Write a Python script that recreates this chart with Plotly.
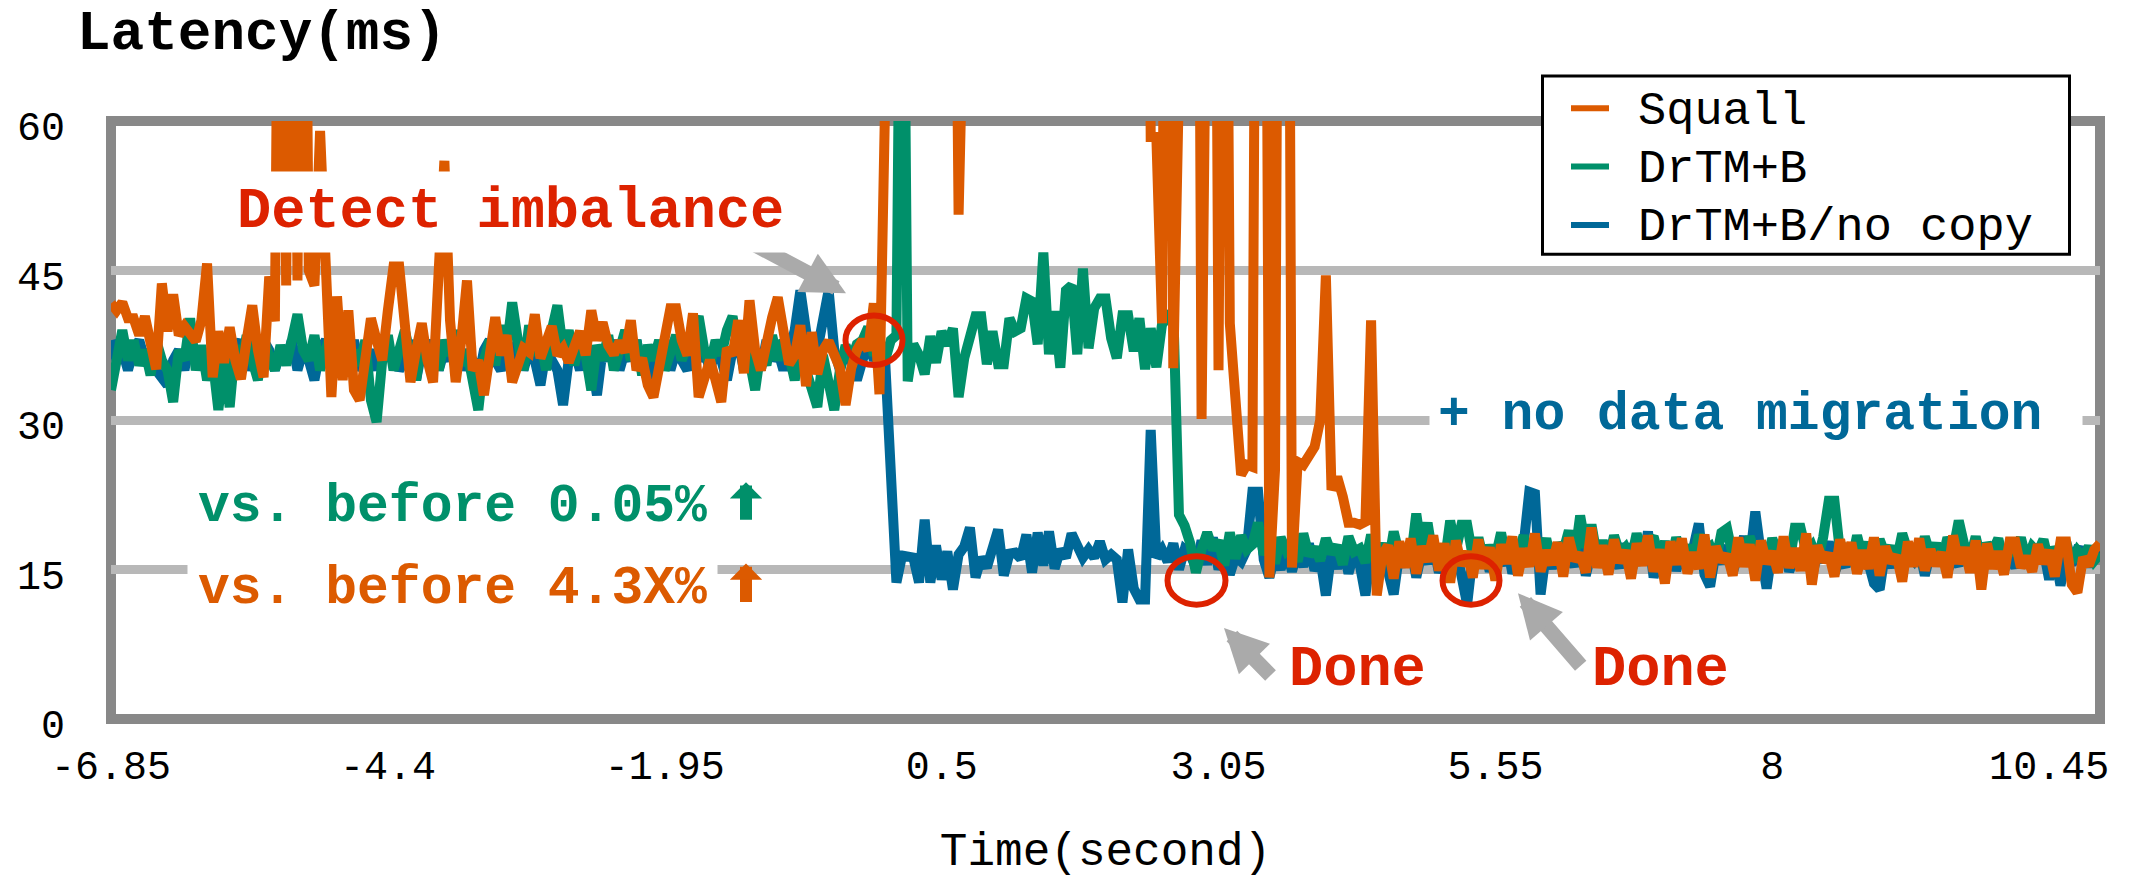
import plotly.graph_objects as go

# ---------------- data ----------------
time_labels = ['-6.85', '-4.4', '-1.95', '0.5', '3.05', '5.55', '8', '10.45']
y_ticks = [0, 15, 30, 45, 60]

squall = [
    41.7, 41, 41.8, 40.2, 40.2, 38.5, 40.4, 37.8, 35.1, 43.7,
    38.9, 42.6, 38.5, 39.4, 38.5, 37.9, 40, 45.7, 34.3, 38.9,
    35.75, 39.3, 36, 34.1, 38, 41.5, 37, 34.3, 44.4, 39.9,
    110, 43.5, 110, 44, 110, 45, 43.5, 59, 44, 32.3,
    42.4, 34, 41, 33, 32, 36.4, 40.2, 38, 36, 41,
    45.4, 45.4, 40.5, 33.8, 37, 39.7, 36, 33.8, 45, 56,
    40, 33.8, 38, 44, 35, 36, 32.5, 37, 40.3, 36.5,
    38.5, 33.8, 35.5, 37.2, 36.8, 40.6, 36.2, 38, 39.4, 36.5,
    37.2, 35.8, 37.5, 38.9, 36.5, 41, 38, 39.8, 37.5, 36.6,
    37.9, 36.8, 40, 35, 36.2, 33.5, 32.3, 35.5, 37.5, 41.2,
    41.2, 38, 36.5, 40.7, 32.3, 34.5, 36, 34, 31.8, 37.2,
    36.5, 40, 34.7, 42, 37, 35, 38, 40.3, 42.3, 38,
    35.6, 36.5, 39.5, 33.4, 38.8, 34.6, 37, 37.9, 36.2, 35.2,
    31.5, 35.2, 37, 38, 37, 41.7, 32.6, 130, 140, 125,
    150, 135, 145, 120, 140, 130, 150, 125, 140, 110,
    50.6, 115, 140, 130, 150, 125, 145, 135, 120, 150,
    130, 140, 125, 145, 130, 150, 120, 140, 135, 150,
    125, 140, 130, 145, 120, 150, 135, 140, 125, 145,
    130, 150, 125, 140, 58.4, 58.4, 39.7, 130, 35.2, 140,
    130, 150, 150, 30.1, 130, 140, 35, 125, 39.7, 31,
    24.5, 25.5, 25.3, 135, 140, 14.2, 25, 140, 150, 15.2,
    25.8, 25.5, 26.5, 27.3, 30, 44.5, 23, 24.3, 22.3, 19.7,
    19.7, 19.5, 19.8, 40, 12.4, 16.5, 17.4, 14.1, 17.8, 15.2,
    18.1, 14.6, 17.3, 15.8, 18.4, 14.9, 17.6, 13.7, 17.9, 15.4,
    16.8, 14.2, 18, 15.1, 17.2, 13.9, 17.5, 15.6, 18.3, 14.4,
    17.1, 15.3, 18.6, 14.8, 16.9, 15.5, 17.7, 14.3, 18.2, 15.9,
    16.6, 14.7, 19.2, 15.2, 17.4, 14.5, 18, 15.7, 16.9, 14.1,
    17.6, 15.4, 18.4, 14.8, 17, 13.6, 17.8, 15.5, 18.1, 14.6,
    16.7, 15.1, 18.5, 14.2, 17.3, 15.8, 16.5, 14.4, 18.2, 15.3,
    17.5, 13.9, 17.9, 15.6, 16.8, 14.7, 18.3, 15.2, 17.1, 14.9,
    18.6, 13.5, 17.4, 15.8, 16.6, 14.3, 18, 15.5, 17.7, 14.6,
    16.9, 15.1, 18.2, 14.4, 17.3, 15.7, 16.4, 13.8, 17.8, 15.3,
    18.1, 14.9, 17, 15.4, 16.7, 14.2, 18.4, 15.6, 17.2, 14.7,
    17.9, 13, 17.6, 15.1, 16.8, 14.5, 17.8, 17.8, 15.2, 16.3,
    14.8, 17.5, 15.6, 16.9, 14.3, 17.8, 17.8, 13.5, 12.7, 16.2,
    15.4, 17, 17.6,
]

drtm_b = [
    33, 36.5, 39, 36, 38, 35.5, 37, 34.5, 38, 36,
    35, 31.8, 37, 36, 40.2, 35, 37.5, 34, 36, 31,
    36, 31.3, 37.5, 35, 38.5, 36, 34, 38, 36.5, 35,
    37.5, 35.5, 38, 40.6, 37, 36, 38.5, 35, 37, 39,
    36, 38, 34.5, 37, 35.5, 38, 32, 29.8, 36, 38.5,
    35, 37, 39, 36.5, 34, 38, 36, 37.5, 35, 38,
    36.5, 39, 35.5, 37, 34, 31, 36, 38, 35.5, 39.5,
    37, 41.8, 38, 35, 39.5, 36.5, 38, 35, 39, 41.5,
    37, 39, 35.5, 38, 36.5, 33, 37.5, 36, 38.5, 35,
    37, 39, 36, 38, 34.5, 37.5, 36, 38, 35, 37,
    38.5, 36, 37.5, 39, 40.4, 37, 35.5, 38, 36.5, 39,
    40.4, 37, 38.5, 36, 33, 37, 35.5, 38.5, 36, 38,
    36.5, 34, 37.5, 35, 33, 31.3, 36.5, 33, 31, 35,
    37.5, 36, 37.6, 38, 39.3, 36.5, 37.5, 36, 38, 38.5,
    100, 33.9, 37.6, 36.5, 34.6, 38.4, 35.75, 38.9, 37.5, 39.2,
    32.3, 36.2, 38, 40.4, 40.4, 35.6, 38.9, 35.6, 35.6, 40.2,
    38.9, 39.2, 42.2, 41.9, 37.6, 46.8, 36.6, 40.9, 35.25, 43,
    43.5, 36.6, 45.2, 37.2, 41.2, 42.2, 42.2, 38.2, 36.2, 40.5,
    40.5, 36.9, 40.2, 35.1, 39.2, 35.3, 39.6, 40.2, 41, 20.5,
    19.4, 17.6, 14.7, 17, 18.7, 17, 17.9, 15.4, 18.7, 16.1,
    18.4, 17, 17.5, 19.7, 16.5, 17.8, 15.6, 18.2, 16.9, 17.5,
    15.8, 18.6, 16.4, 17.2, 15.9, 18.1, 16.6, 17.4, 15.5, 18.3,
    16.8, 17.1, 15.7, 18.5, 16.2, 17.6, 15.4, 18.8, 16.5, 17.3,
    15.9, 20.6, 16.7, 19.7, 16.1, 17.5, 15.6, 19.9, 16.9, 19.5,
    19.5, 16.3, 18.2, 15.8, 17.4, 16.2, 18.7, 15.9, 17.3, 16.6,
    18.4, 15.7, 17.8, 16.4, 18.1, 15.5, 17.6, 16.8, 18.9, 16.1,
    20.4, 17.2, 19.5, 16.3, 17.9, 15.8, 18.4, 16.6, 17.2, 15.9,
    18.6, 16.4, 17.7, 18.3, 16.1, 17.8, 15.7, 18.2, 16.5, 17.4,
    15.6, 18.5, 16.9, 17.3, 15.8, 18.7, 19.1, 16.4, 17.6, 15.9,
    18.3, 16.7, 17.5, 16, 18.1, 16.6, 17.8, 15.5, 19.2, 19.2,
    16.8, 17.4, 15.9, 18.2, 21.9, 21.9, 16.7, 17.5, 15.6, 18.4,
    16.2, 17.7, 15.8, 18, 16.5, 17.3, 15.9, 18.6, 16.8, 17.1,
    15.7, 18.3, 16.4, 17.6, 15.8, 18.2, 16.9, 19.9, 17.4, 16.1,
    18.3, 15.9, 17.6, 16.8, 18.1, 15.7, 17.4, 16.5, 18.2, 15.9,
    17.3, 16.7, 18, 15.6, 17.2, 16.4, 17.8, 15.8, 16.9, 16.2,
    17.3, 15.9, 16.6,
]

drtm_b_nocopy = [
    38, 36, 37, 35, 37, 38, 36, 37, 35, 34,
    33.5, 36, 37, 35, 38, 36, 37, 35, 36, 38,
    36, 34, 37, 38, 35, 37, 36, 38, 37, 35,
    37, 36, 38, 35, 37, 36, 34, 37, 38, 36,
    35, 37, 36, 38, 35, 36, 37, 35, 38, 36,
    37, 35, 36, 38, 34, 37, 36, 38, 35, 37,
    36, 38, 35, 37, 36, 34, 37, 38, 36, 35,
    37, 36, 38, 35, 37, 36, 33.5, 37, 36, 35,
    31.5, 36, 37, 35, 38, 36, 32.5, 37, 36, 38,
    35, 37, 36, 38, 35, 37, 34, 36, 38, 35,
    37, 36, 35, 38, 36, 37, 35, 37, 36, 34,
    37, 38, 35, 36, 37, 35, 38, 36, 37, 35,
    37, 39, 43, 38, 35, 37, 40, 43, 37, 35,
    37, 36, 34, 36, 38, 36, 37, 36, 22, 13.7,
    16.4, 16.3, 16.2, 13.7, 20, 13.7, 17.4, 14, 16.8, 13,
    16.5, 17.3, 19.2, 14.2, 16.2, 15.2, 17, 19, 14.4, 16.6,
    16.7, 16.1, 18.5, 14.7, 18.7, 15.4, 18.8, 15.1, 17, 16.2,
    18.6, 17.5, 16.2, 17, 16.2, 17.8, 16, 16.5, 16, 11.7,
    17, 13.1, 12, 12, 29, 16.2, 17, 15.8, 17.6, 15,
    17, 16.5, 15.2, 17.9, 15.5, 18.2, 15, 16.8, 14.5, 16.3,
    15.8, 17, 22.8, 22.8, 16, 14.2, 16.5, 15, 17.2, 14.8,
    16.9, 15.3, 17.6, 14.9, 16.2, 12.4, 16.8, 15.1, 17.3, 14.6,
    16.7, 15.5, 12.4, 16.9, 15.2, 17.1, 14.8, 12.5, 16.6, 15.3,
    17.4, 14.2, 16.8, 15.6, 17.7, 14.7, 16.3, 15.1, 17.2, 13.9,
    11.5, 16.5, 15.2, 17.3, 14.8, 16.7, 15.4, 17.8, 14.6, 16.2,
    17.5, 22.8, 22.6, 12.5, 16.9, 15.1, 17.2, 14.9, 16.6, 15.3,
    17.9, 14.4, 16.8, 15.7, 17.4, 14.8, 16.3, 15.2, 17.6, 14.6,
    16.9, 15.5, 18.8, 14.2, 16.5, 15.8, 17.3, 14.9, 16.7, 15.4,
    17.1, 19.6, 14.5, 13.3, 16.8, 15.6, 17.4, 14.7, 16.2, 18.3,
    15.9, 20.8, 16.5, 13.1, 16.9, 15.4, 17.6, 14.8, 16.3, 15.1,
    17.2, 14.3, 16.6, 15.8, 17.8, 14.6, 16.1, 15.3, 17.5, 14.9,
    16.4, 15.7, 13.6, 13, 16.8, 15.2, 17.3, 14.7, 16.5, 15.9,
    17.1, 14.4, 16.7, 15.6, 17.4, 14.8, 16.2, 15.4, 17.6, 15,
    16.8, 14.3, 16.5, 15.7, 17.2, 14.9, 16.4, 15.2, 17.5, 15.8,
    16.9, 17, 17, 14, 16.6, 13.4, 16.2, 15.5, 17, 16.9,
    15.3, 16.8, 16.9,
]

series_names = ['Squall', 'DrTM+B', 'DrTM+B/no copy']

# ---------------- style ----------------
ORANGE = '#dc5a00'
GREEN = '#00906a'
BLUE = '#006898'
RED = '#dd2200'
ARROW_GRAY = '#aaaaaa'
GRID = '#b8b8b8'
BORDER = '#888888'
MONO = 'Liberation Mono, Courier New, monospace'

PAGE_W, PAGE_H = 2131, 879
PLOT_L, PLOT_R, PLOT_T, PLOT_B = 111, 2100, 121, 725      # page pixels of the plot frame
W, H = PAGE_W, PAGE_H
L, T = PLOT_L, PLOT_T
R, B = PAGE_W - PLOT_R, PAGE_H - PLOT_B
PW, PH = PLOT_R - PLOT_L, PLOT_B - PLOT_T
X_MAX = len(squall) - 1
Y_MAX = 60
TICK_STEP = 49


def px_x(px):
    return (px - PLOT_L) / PW * X_MAX


def px_y(py):
    return (PLOT_B - py) / PH * Y_MAX


def paper_x(px):
    return (px - PLOT_L) / PW


def paper_y(py):
    return (PLOT_B - py) / PH


colors = {'Squall': ORANGE, 'DrTM+B': GREEN, 'DrTM+B/no copy': BLUE}
values = {'Squall': squall, 'DrTM+B': drtm_b, 'DrTM+B/no copy': drtm_b_nocopy}

fig = go.Figure()
# drawing order: blue underneath, orange on top
for name in reversed(series_names):
    vals = values[name]
    fig.add_trace(go.Scatter(
        x=list(range(len(vals))), y=vals, mode='lines', name=name,
        line=dict(color=colors[name], width=10), showlegend=False,
    ))

shapes = [
    dict(type='rect', xref='paper', yref='paper', x0=0, x1=1, y0=0, y1=1,
         line=dict(color=BORDER, width=10), fillcolor='rgba(0,0,0,0)', layer='between'),
]
for cx, cy, rx, ry in [(874, 342.5, 28.5, 25), (1196.5, 585, 29, 24.5), (1471, 585, 28.5, 24.5)]:
    shapes.append(dict(type='circle', xref='x', yref='y',
                       x0=px_x(cx - rx), x1=px_x(cx + rx), y0=px_y(cy + ry), y1=px_y(cy - ry),
                       line=dict(color=RED, width=6), layer='above'))

# legend box (drawn by hand to match the boxed key of the original)
LEG_L, LEG_R, LEG_T, LEG_B = 1542.5, 2069.5, 75.5, 255.5
shapes.append(dict(type='rect', xref='paper', yref='paper',
                   x0=paper_x(LEG_L), x1=paper_x(LEG_R), y0=paper_y(LEG_B), y1=paper_y(LEG_T),
                   line=dict(color='black', width=3), fillcolor='white', layer='above'))
legend_rows = [108, 167, 226]
for name, ry in zip(series_names, legend_rows):
    shapes.append(dict(type='line', xref='paper', yref='paper',
                       x0=paper_x(1571), x1=paper_x(1609), y0=paper_y(ry), y1=paper_y(ry),
                       line=dict(color=colors[name], width=6), layer='above'))

annotations = []
# gray pointer arrows
for ex, ey, ax, ay in [(846, 295, -126, -67), (1224, 633, 48, 49), (1518, 598, 64, 74)]:
    annotations.append(dict(x=px_x(ex), y=px_y(ey), xref='x', yref='y', text='',
                            showarrow=True, ax=ax, ay=ay, arrowhead=2, arrowsize=0.58,
                            arrowwidth=15, arrowcolor=ARROW_GRAY))
# small up arrows
for ey, ay, col in [(486, 39, GREEN), (568, 40, ORANGE)]:
    annotations.append(dict(x=px_x(746), y=px_y(ey), xref='x', yref='y', text='',
                            showarrow=True, ax=0, ay=ay, arrowhead=1, arrowsize=0.45,
                            arrowwidth=12, arrowcolor=col))


def label(text, cx, cy, color, size, bg=None, pad=0):
    d = dict(x=px_x(cx), y=px_y(cy), xref='x', yref='y', text='<b>' + text + '</b>',
             showarrow=False, font=dict(family=MONO, size=size, color=color),
             xanchor='center', yanchor='middle', borderpad=pad)
    if bg:
        d['bgcolor'] = bg
    return d


annotations += [
    label('Detect imbalance', 510, 213, RED, 57, 'white', 8),
    label('+ no data migration\u00a0', 1756, 418, BLUE, 53, 'white', 8),
    label('vs. before 0.05%', 452, 511, GREEN, 53, 'white', 10),
    label('vs. before 4.3X%', 452, 594, ORANGE, 53, 'white', 10),
    label('Done', 1357, 675, RED, 57),
    label('Done', 1660, 675, RED, 57),
    dict(x=paper_x(262), y=paper_y(33), xref='paper', yref='paper',
         text='<b>Latency(ms)</b>', showarrow=False,
         font=dict(family=MONO, size=56, color='black'), xanchor='center', yanchor='middle'),
]
for name, ry in zip(series_names, legend_rows):
    annotations.append(dict(x=paper_x(1636), y=paper_y(ry + 3), xref='paper', yref='paper',
                            text=name, showarrow=False, xanchor='left', yanchor='middle',
                            font=dict(family=MONO, size=47, color='black')))

fig.update_layout(
    width=W, height=H,
    margin=dict(l=L, r=R, t=T, b=B, pad=0),
    paper_bgcolor='white', plot_bgcolor='white',
    shapes=shapes, annotations=annotations, showlegend=False,
)
fig.update_xaxes(
    range=[0, X_MAX], tickmode='array',
    tickvals=[k * TICK_STEP for k in range(len(time_labels))], ticktext=time_labels,
    showgrid=False, zeroline=False, showline=False, ticks='',
    tickfont=dict(family=MONO, size=40, color='black'), ticklabelstandoff=19,
    title=dict(text='Time(second)', font=dict(family=MONO, size=46, color='black'), standoff=44),
)
fig.update_yaxes(
    range=[0, Y_MAX], tickmode='array', tickvals=y_ticks,
    showgrid=True, gridcolor=GRID, gridwidth=9, zeroline=False, showline=False, ticks='',
    tickfont=dict(family=MONO, size=40, color='black'), ticklabelstandoff=45, ticklabelshift=5,
)

fig.write_html('out.html', config={'displayModeBar': False},
               post_script="document.body.style.margin='0px';document.body.style.overflow='hidden';")
